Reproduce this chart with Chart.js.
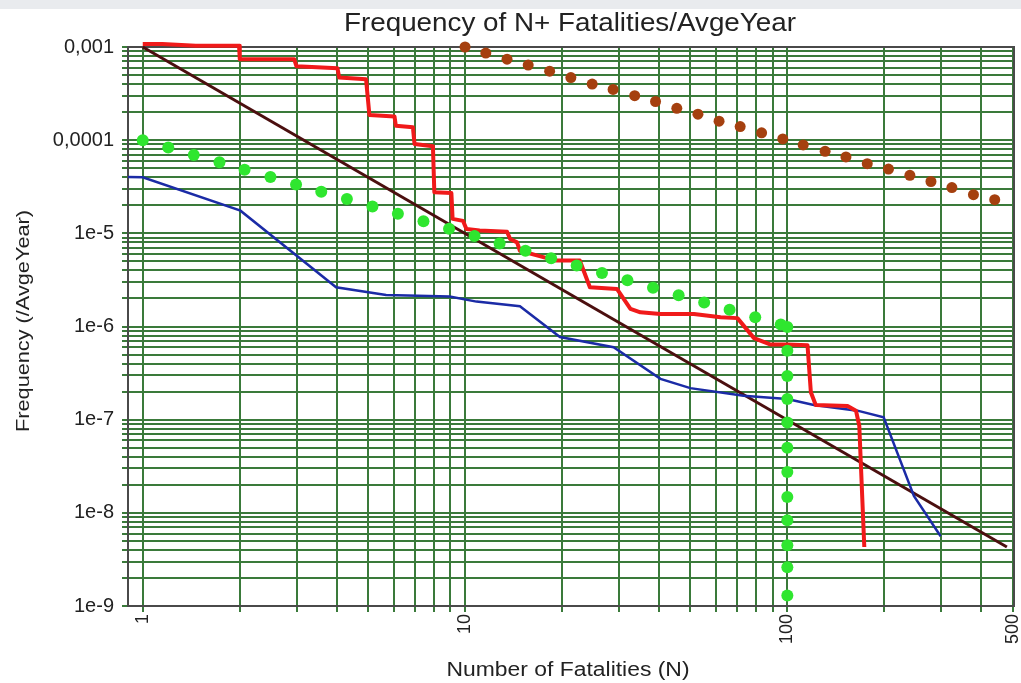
<!DOCTYPE html>
<html><head><meta charset="utf-8">
<script src="https://cdn.jsdelivr.net/npm/chart.js@4/dist/chart.umd.min.js"></script>
<style>html,body{margin:0;padding:0;background:#fff;overflow:hidden}#wrap{width:1021px;height:683px;position:relative}</style>
</head><body><div id="wrap"><canvas id="c" width="1021" height="683"></canvas></div>
<script>
// ---- text ----
const chartTitle = 'Frequency of N+ Fatalities/AvgeYear';
const xAxisTitle = 'Number of Fatalities (N)';
const yAxisTitle = 'Frequency (/AvgeYear)';
// ---- ticks ----
const xLabelValues = [1, 10, 100, 500];
const xLabelTexts = ['1', '10', '100', '500'];
const xGridValues = [1,2,3,4,5,6,7,8,9,10,20,30,40,50,60,70,80,90,100,200,300,400,500];
const yLabelValues = [1e-3, 1e-4, 1e-5, 1e-6, 1e-7, 1e-8, 1e-9];
const yLabelTexts = ['0,001', '0,0001', '1e-5', '1e-6', '1e-7', '1e-8', '1e-9'];
const ySignificands = [1,2,3,4,5,6,7,8,9];
const yDecades = [-9,-8,-7,-6,-5,-4];
// ---- series ----
const redN = [1,1.15,1.46,1.99,2,2.95,3,4.02,4.07,4.93,5.05,6.04,6.1,6.89,6.97,7.95,8.03,9.07,9.15,9.86,10.1,11.1,13.5,13.8,14.5,14.8,16.7,19.2,22.7,24.4,29.6,32.6,35.0,40.4,51.3,62.1,70.0,78.8,88.8,100,115.5,118.3,122.5,153.8,163.3,167.2,173.3];
const redF = [1.08e-3,1.08e-3,1.03e-3,1.03e-3,7.4e-4,7.4e-4,6.2e-4,5.9e-4,4.7e-4,4.5e-4,1.86e-4,1.80e-4,1.43e-4,1.38e-4,9.1e-5,8.6e-5,2.76e-5,2.71e-5,1.43e-5,1.36e-5,1.11e-5,1.07e-5,1.04e-5,8.7e-6,8.0e-6,6.5e-6,5.8e-6,5.1e-6,5.1e-6,2.64e-6,2.53e-6,1.55e-6,1.42e-6,1.36e-6,1.36e-6,1.26e-6,1.23e-6,7.5e-7,6.4e-7,6.4e-7,6.3e-7,1.97e-7,1.44e-7,1.40e-7,1.25e-7,8.6e-8,4.3e-9];
const blueN = [0.9,1,2.01,3.98,5.69,8.96,10.85,14.8,19.7,28.9,40.4,50.0,73.1,100,120.8,165,199,247,299];
const blueF = [4.03e-5,4.0e-5,1.75e-5,2.64e-6,2.18e-6,2.10e-6,1.85e-6,1.65e-6,7.7e-7,6.0e-7,2.74e-7,2.18e-7,1.81e-7,1.67e-7,1.44e-7,1.25e-7,1.06e-7,1.52e-8,5.6e-9];
const criterionN = [1, 480];
const criterionF = [1e-3, 4.3e-9];
const greenN = [1,1.2,1.44,1.73,2.07,2.49,2.99,3.58,4.3,5.16,6.19,7.43,8.92,10.7,12.8,15.4,18.5,22.2,26.6,31.9,38.3,46.0,55.2,66.2,79.5,95.4,100,100,100,100,100,100,100,100,100,100,100,100];
const greenF = [1e-4,8.33e-5,6.94e-5,5.79e-5,4.82e-5,4.02e-5,3.35e-5,2.79e-5,2.33e-5,1.94e-5,1.62e-5,1.35e-5,1.12e-5,9.35e-6,7.79e-6,6.49e-6,5.41e-6,4.51e-6,3.76e-6,3.13e-6,2.61e-6,2.17e-6,1.81e-6,1.51e-6,1.26e-6,1.05e-6,9.9e-7,5.5e-7,2.95e-7,1.67e-7,9.3e-8,5.0e-8,2.75e-8,1.48e-8,8.3e-9,4.5e-9,2.6e-9,1.3e-9];
const brownN = [10,11.6,13.5,15.7,18.3,21.3,24.8,28.8,33.6,39.0,45.4,52.8,61.4,71.4,83.2,96.8,112,131,152,177,206,240,279,324,378,440];
const brownF = [1.0e-3,8.6e-4,7.4e-4,6.4e-4,5.5e-4,4.7e-4,4.0e-4,3.5e-4,3.0e-4,2.6e-4,2.2e-4,1.9e-4,1.6e-4,1.4e-4,1.2e-4,1.03e-4,8.9e-5,7.6e-5,6.6e-5,5.6e-5,4.9e-5,4.2e-5,3.6e-5,3.1e-5,2.6e-5,2.3e-5];

const pts = (xs, ys) => xs.map((x, i) => ({x: x, y: ys[i]}));
const yGridValues = [];
yDecades.forEach(d => ySignificands.forEach(s => yGridValues.push(s * Math.pow(10, d))));
yGridValues.push(1e-3);

const FONT = "'Liberation Sans', Arial, sans-serif";
const near = (a, b) => Math.abs(Math.log10(a) - Math.log10(b)) < 1e-6;

function fitText(ctx, text, cx, cy, w, px, rot) {
  ctx.save();
  ctx.font = px + 'px ' + FONT;
  const m = ctx.measureText(text).width;
  ctx.translate(cx, cy);
  if (rot) ctx.rotate(rot);
  ctx.scale(w / m, 1);
  ctx.textAlign = 'center';
  ctx.textBaseline = 'alphabetic';
  ctx.fillStyle = '#222';
  ctx.fillText(text, 0, 0);
  ctx.restore();
}

const decor = {
  id: 'decor',
  beforeDraw(chart) {
    const ctx = chart.ctx;
    ctx.save();
    ctx.fillStyle = '#fff';
    ctx.fillRect(0, 0, chart.width, chart.height);
    ctx.fillStyle = '#e9ebee';
    ctx.fillRect(0, 0, chart.width, 9);
    ctx.restore();
  },
  beforeDatasetsDraw(chart) {
    const a = chart.chartArea, ctx = chart.ctx;
    ctx.save();
    ctx.strokeStyle = '#4a4a4a';
    ctx.lineWidth = 2;
    ctx.strokeRect(a.left, a.top, a.right - a.left, a.bottom - a.top);
    ctx.restore();
  },
  afterDraw(chart) {
    const ctx = chart.ctx;
    fitText(ctx, chartTitle, 570, 31, 452, 26, 0);
    fitText(ctx, xAxisTitle, 568, 676, 243, 20, 0);
    fitText(ctx, yAxisTitle, 29, 321, 222, 18, -Math.PI / 2);
  }
};

new Chart(document.getElementById('c'), {
  type: 'scatter',
  data: {
    datasets: [
      {data: pts(brownN, brownF), showLine: false, pointRadius: 5.5, pointBackgroundColor: '#a5400f', pointBorderWidth: 0, order: 0, clip: 10},
      {data: pts(greenN, greenF), showLine: false, pointRadius: 6, pointBackgroundColor: '#2fe62f', pointBorderWidth: 0, order: 1, clip: 10},
      {data: pts(redN, redF), showLine: true, borderColor: '#f01a1a', borderWidth: 4, pointRadius: 0, order: 2, clip: 10, borderJoinStyle: 'round'},
      {data: pts(blueN, blueF), showLine: true, borderColor: '#1b2ba6', borderWidth: 2.5, pointRadius: 0, order: 3, clip: 10},
      {data: pts(criterionN, criterionF), showLine: true, borderColor: '#4b0f0f', borderWidth: 3, pointRadius: 0, order: 4, clip: 10}
    ]
  },
  options: {
    responsive: false,
    animation: false,
    devicePixelRatio: 1,
    layout: {padding: {top: 47, right: 7, left: 0, bottom: 0}},
    plugins: {legend: {display: false}, tooltip: {enabled: false}, title: {display: false}},
    scales: {
      x: {
        type: 'logarithmic', min: 0.9, max: 505,
        afterBuildTicks: s => { s.ticks = xGridValues.map(v => ({value: v})); },
        afterFit: s => { s.height = 77; s.paddingLeft = 0; s.paddingRight = 0; },
        ticks: {
          autoSkip: false, minRotation: 90, maxRotation: 90, padding: 2,
          color: '#222', font: {family: FONT, size: 18},
          callback: v => { const i = xLabelValues.findIndex(t => near(t, v)); return i >= 0 ? xLabelTexts[i] : ''; }
        },
        grid: {color: '#3a7a3a', lineWidth: 2, tickLength: 6},
        border: {display: true, color: '#4a4a4a', width: 2}
      },
      y: {
        type: 'logarithmic', min: 1e-9, max: 1e-3,
        afterBuildTicks: s => { s.ticks = yGridValues.map(v => ({value: v})); },
        afterFit: s => { s.width = 128; s.paddingTop = 0; s.paddingBottom = 0; },
        ticks: {
          autoSkip: false, padding: 8,
          color: '#222', font: {family: FONT, size: 20},
          callback: v => { const i = yLabelValues.findIndex(t => near(t, v)); return i >= 0 ? yLabelTexts[i] : ''; }
        },
        grid: {color: '#3a7a3a', lineWidth: 2, tickLength: 6},
        border: {display: true, color: '#4a4a4a', width: 2}
      }
    }
  },
  plugins: [decor]
});
</script>
</body></html>
